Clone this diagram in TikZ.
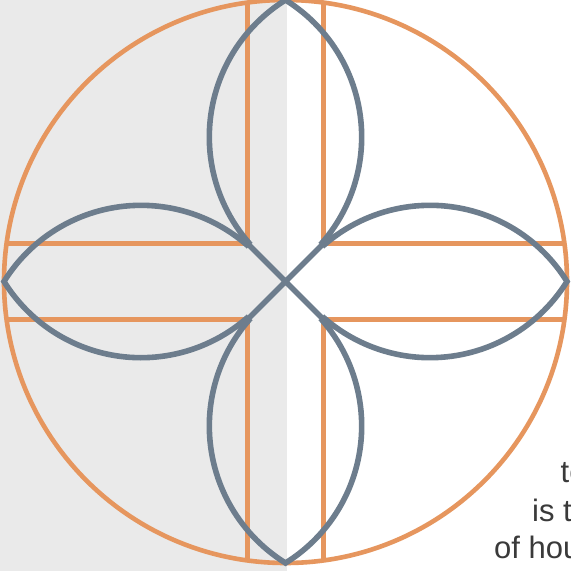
\documentclass[tikz,border=0pt]{standalone}
\usepackage{fontspec}
\setmainfont{Liberation Sans}
\usetikzlibrary{calc}
\definecolor{ochre}{HTML}{E6965E}
\definecolor{slate}{HTML}{6D7D8D}
\definecolor{paper}{HTML}{EAEAEA}
\definecolor{ink}{HTML}{3A3A3A}
\begin{document}
\begin{tikzpicture}[x=1pt,y=-1pt,
  orangeline/.style={draw=ochre,line width=4.6pt},
  petal/.style={draw=slate,line width=5.6pt,line join=miter},
  txt/.style={text=ink,font=\fontsize{31}{37}\selectfont,inner sep=0pt,anchor=base west}]
\useasboundingbox (0,0) rectangle (571,571);
\clip (0,0) rectangle (571,571);
\fill[white] (0,0) rectangle (571,571);
\fill[paper] (0,0) rectangle (287,571);
\coordinate (O) at (285.5,281.5);
\coordinate (JUL) at (247.5,243.5);
\coordinate (JUR) at (323.5,243.5);
\coordinate (JLR) at (323.5,319.5);
\coordinate (JLL) at (247.5,319.5);
\begin{scope}
\clip (O) circle[radius=281.5];
\draw[orangeline] ($(JUL)+(0,-300)$) -- (JUL) -- ++(-300,0);
\draw[orangeline] ($(JUR)+(0,-300)$) -- (JUR) -- ++(300,0);
\draw[orangeline] ($(JLR)+(0,300)$) -- (JLR) -- ++(300,0);
\draw[orangeline] ($(JLL)+(0,300)$) -- (JLL) -- ++(-300,0);
\end{scope}
\draw[orangeline] (O) circle[radius=281.5];
\coordinate (T1) at ($(O)+(85.06,-144.5)$);
\coordinate (T2) at ($(O)+(-85.06,-144.5)$);
\coordinate (R1) at ($(O)+(144.5,85.06)$);
\coordinate (R2) at ($(O)+(144.5,-85.06)$);
\coordinate (B1) at ($(O)+(-85.06,144.5)$);
\coordinate (B2) at ($(O)+(85.06,144.5)$);
\coordinate (L1) at ($(O)+(-144.5,-85.06)$);
\coordinate (L2) at ($(O)+(-144.5,85.06)$);
\draw[petal] (JUL) -- ($(T1)+(139.13:161.26)$)
  arc[start angle=139.13,end angle=238.16,radius=161.26]
  arc[start angle=-58.16,end angle=40.87,radius=161.26] -- (JUR)
  -- ($(R1)+(229.13:161.26)$)
  arc[start angle=229.13,end angle=328.16,radius=161.26]
  arc[start angle=31.84,end angle=130.87,radius=161.26] -- (JLR)
  -- ($(B1)+(319.13:161.26)$)
  arc[start angle=319.13,end angle=418.16,radius=161.26]
  arc[start angle=121.84,end angle=220.87,radius=161.26] -- (JLL)
  -- ($(L1)+(49.13:161.26)$)
  arc[start angle=49.13,end angle=148.16,radius=161.26]
  arc[start angle=211.84,end angle=310.87,radius=161.26] -- cycle;
\draw[petal] (JUL) -- (JLR) (JUR) -- (JLL);
\node[txt] (t1) at (560.5,482.5) {to};
\node[txt] (t2) at (532,521) {is th};
\node[txt] (t3) at (494,558) {of hou};
\end{tikzpicture}
\end{document}
